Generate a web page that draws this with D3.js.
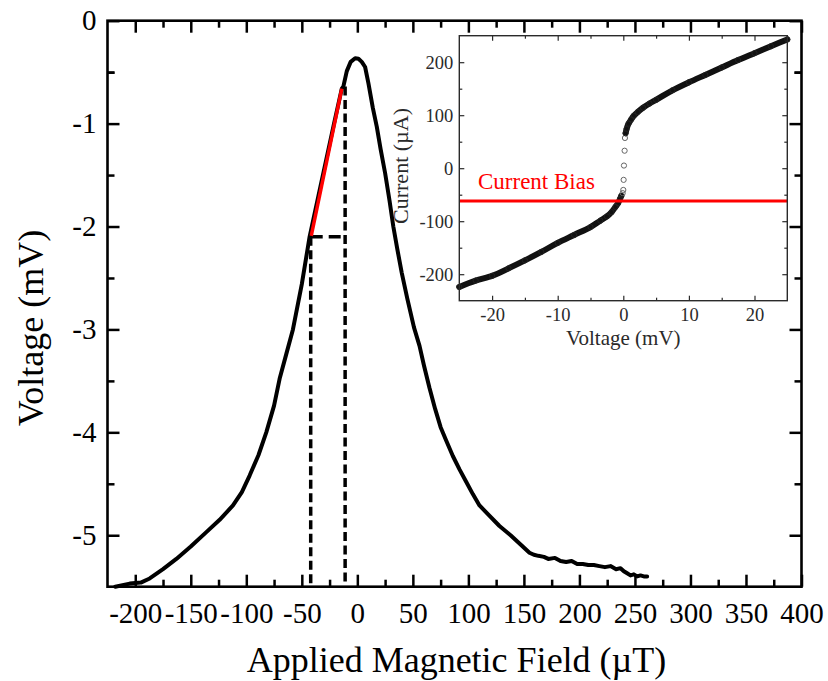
<!DOCTYPE html>
<html>
<head>
<meta charset="utf-8">
<script src="https://cdn.jsdelivr.net/npm/d3@7"></script>
<style>
  html, body { margin: 0; padding: 0; background: #fff; }
  svg { display: block; }
  text { font-family: "Liberation Serif", "Times New Roman", serif; }
</style>
</head>
<body>
<svg id="chart" width="828" height="681"></svg>
<script>
// Voltage response vs. applied magnetic field
const fieldUT = [-218, -205, -195, -187, -175, -163, -150, -136, -124, -112, -104, -97, -89, -82, -75, -70, -64, -58, -50, -43,
  -35, -28, -21, -14, -12.6, -9.5, -6, -2, 1, 4, 7, 10, 14, 17.5, 21, 25, 29, 32.4, 36, 40, 45, 51, 56, 60, 65, 70, 75, 80,
  86, 92, 98, 104, 110, 118, 128, 138, 147, 155, 159, 163, 168, 172, 178, 183, 188, 193, 198, 203, 208, 213, 218, 223, 228,
  233, 237, 240, 243, 246, 249, 252, 255, 258, 261];
const voltageMV = [-5.5, -5.47, -5.46, -5.42, -5.33, -5.23, -5.11, -4.97, -4.85, -4.71, -4.58, -4.42, -4.22, -4.0, -3.74, -3.48, -3.24, -3.0, -2.56, -2.1,
  -1.7, -1.35, -1.0, -0.66, -0.64, -0.49, -0.4, -0.365, -0.37, -0.4, -0.45, -0.61, -0.85, -1.03, -1.25, -1.48, -1.75, -2.0, -2.22, -2.45, -2.7, -2.98, -3.16, -3.35, -3.57, -3.77, -3.95, -4.08,
  -4.23, -4.36, -4.48, -4.6, -4.71, -4.8, -4.91, -5.0, -5.09, -5.17, -5.19, -5.2, -5.21, -5.23, -5.22, -5.25, -5.26, -5.25, -5.28, -5.28, -5.29, -5.29, -5.3, -5.31, -5.3,
  -5.33, -5.32, -5.35, -5.37, -5.39, -5.38, -5.4, -5.39, -5.4, -5.4];

// linear segment used as the working slope
const slopeField = [-41.5, -14];
const slopeVoltage = [-2.09, -0.66];

// dashed guides marking the operating window
const guideField = [-42, -11];
const guideVoltage = [-2.1, -0.64];

const fieldTicks = [-200, -150, -100, -50, 0, 50, 100, 150, 200, 250, 300, 350, 400];
const voltageTicks = [0, -1, -2, -3, -4, -5];

// I-V characteristic of the device (inset)
const ivVoltage = [-25, -22.5, -20, -17.5, -15, -12.5, -10, -7.5, -5, -3.5, -2.5, -1.8, -1.2, -0.8, -0.5, -0.3,
  -0.1, 0, 0.05, 0.1, 0.2, 0.25,
  0.35, 0.5, 0.8, 1.2, 1.6, 2.2, 3, 4, 5, 7.5, 10, 12.5, 15, 17.5, 20, 22.5, 25];
const ivCurrent = [-224, -212, -203, -189, -174, -158, -141, -126, -111, -99, -91, -83, -73, -66, -58, -52,
  -47, -41, -22, 5, 33, 57,
  66, 74, 84, 92, 99, 106, 114, 122, 129, 147, 162, 176, 190, 204, 217, 230, 243];
const biasCurrent = -62;

const ivVoltageTicks = [-20, -10, 0, 10, 20];
const ivCurrentTicks = [-200, -100, 0, 100, 200];

const svg = d3.select("#chart");

// ---------- main panel ----------
const M = { left: 107.5, right: 801.5, top: 20.7, bottom: 586.7 };
const x = d3.scaleLinear().domain([-225, 400]).range([M.left, M.right]);
const y = d3.scaleLinear().domain([-5.5, 0]).range([M.bottom, M.top]);

function drawAxes(g, xs, ys, o) {
  const [x0, x1] = xs.range(), [y0, y1] = ys.range();
  const fmt = d => String(d);
  const minor = (ticks, step) => ticks.map(t => t + step).filter(t => !ticks.includes(t));
  const xMinor = minor(o.xTicks, o.xStep / 2).concat([o.xTicks[0] - o.xStep / 2]).filter(t => t > xs.domain()[0] && t < xs.domain()[1]);
  const yMinor = minor(o.yTicks, o.yStep / 2).concat([o.yTicks[0] - o.yStep / 2]).filter(t => t > ys.domain()[0] && t < ys.domain()[1]);

  const clean = sel => { sel.select(".domain").remove(); sel.selectAll("line").attr("stroke", o.color).attr("stroke-width", o.tickWidth); };
  const label = sel => sel.selectAll("text").attr("fill", o.color).style("font-size", o.tickFont + "px").attr("font-family", "Liberation Serif");

  // bottom
  g.append("g").attr("transform", `translate(0,${y0})`)
    .call(d3.axisBottom(xs).tickValues(o.xTicks).tickSize(-o.major).tickPadding(o.xPad).tickFormat(fmt))
    .call(clean).call(label);
  g.append("g").attr("transform", `translate(0,${y0})`)
    .call(d3.axisBottom(xs).tickValues(xMinor).tickSize(-o.minorLen).tickFormat(""))
    .call(clean);
  // top
  g.append("g").attr("transform", `translate(0,${y1})`)
    .call(d3.axisTop(xs).tickValues(o.xTicks).tickSize(-o.major).tickFormat(""))
    .call(clean);
  g.append("g").attr("transform", `translate(0,${y1})`)
    .call(d3.axisTop(xs).tickValues(xMinor).tickSize(-o.minorLen).tickFormat(""))
    .call(clean);
  // left
  g.append("g").attr("transform", `translate(${x0},0)`)
    .call(d3.axisLeft(ys).tickValues(o.yTicks).tickSize(-o.major).tickPadding(o.yPad).tickFormat(fmt))
    .call(clean).call(label);
  g.append("g").attr("transform", `translate(${x0},0)`)
    .call(d3.axisLeft(ys).tickValues(yMinor).tickSize(-o.minorLen).tickFormat(""))
    .call(clean);
  // right
  g.append("g").attr("transform", `translate(${x1},0)`)
    .call(d3.axisRight(ys).tickValues(o.yTicks).tickSize(-o.major).tickFormat(""))
    .call(clean);
  g.append("g").attr("transform", `translate(${x1},0)`)
    .call(d3.axisRight(ys).tickValues(yMinor).tickSize(-o.minorLen).tickFormat(""))
    .call(clean);

  g.append("rect")
    .attr("x", x0).attr("y", y1).attr("width", x1 - x0).attr("height", y0 - y1)
    .attr("fill", "none").attr("stroke", o.color).attr("stroke-width", o.frameWidth);
}

const main = svg.append("g");

// dashed guides
const dash = main.append("g").attr("stroke", "#000").attr("stroke-width", 3.5)
  .attr("stroke-dasharray", "9,4.5").attr("fill", "none");
guideField.forEach((f, i) => {
  dash.append("line")
    .attr("x1", x(f)).attr("x2", x(f))
    .attr("y1", y(guideVoltage[i])).attr("y2", y(-5.5));
});
dash.append("line")
  .attr("x1", x(guideField[0])).attr("x2", x(guideField[1]))
  .attr("y1", y(guideVoltage[0])).attr("y2", y(guideVoltage[0]))
  .attr("stroke-dasharray", "12,6");

// measured curve
main.append("path")
  .datum(fieldUT.map((f, i) => [f, voltageMV[i]]))
  .attr("fill", "none").attr("stroke", "#000").attr("stroke-width", 4)
  .attr("stroke-linejoin", "round").attr("stroke-linecap", "round")
  .attr("d", d3.line().x(d => x(d[0])).y(d => y(d[1])));

// slope segment
main.append("line")
  .attr("x1", x(slopeField[0])).attr("y1", y(slopeVoltage[0]))
  .attr("x2", x(slopeField[1])).attr("y2", y(slopeVoltage[1]))
  .attr("stroke", "#ff0000").attr("stroke-width", 3.5);

drawAxes(main, x, y, {
  xTicks: fieldTicks, yTicks: voltageTicks, xStep: 50, yStep: 1,
  major: 12, minorLen: 7, xPad: 16, yPad: 11, tickFont: 29,
  tickWidth: 2.5, frameWidth: 2.6, color: "#000"
});

main.append("text")
  .attr("x", (M.left + M.right) / 2 + 2).attr("y", 672)
  .attr("text-anchor", "middle").style("font-size", "36px").attr("fill", "#000")
  .text("Applied Magnetic Field (\u00b5T)");
main.append("text")
  .attr("transform", `translate(43,328) rotate(-90)`)
  .attr("text-anchor", "middle").style("font-size", "36px").attr("fill", "#000")
  .text("Voltage (mV)");

// ---------- inset ----------
const I = { left: 459.3, right: 787.3, top: 35.7, bottom: 300.7 };
const xi = d3.scaleLinear().domain([-25, 25]).range([I.left, I.right]);
const yi = d3.scaleLinear().domain([-250, 250]).range([I.bottom, I.top]);

const inset = svg.append("g");
inset.append("rect")
  .attr("x", I.left).attr("y", I.top).attr("width", I.right - I.left).attr("height", I.bottom - I.top)
  .attr("fill", "#fff");

const ivPts = ivVoltage.map((v, i) => [v, ivCurrent[i]]);
const jump = d => d[0] > -0.2 && d[0] < 0.3;

// dense measured branches read as a solid band
[ivPts.filter(d => d[0] <= -0.3), ivPts.filter(d => d[0] >= 0.35)].forEach(branch => {
  inset.append("path").datum(branch)
    .attr("fill", "none").attr("stroke", "#111").attr("stroke-width", 6)
    .attr("stroke-linejoin", "round").attr("stroke-linecap", "round")
    .attr("d", d3.line().curve(d3.curveMonotoneY).x(d => xi(d[0])).y(d => yi(d[1])));
});
inset.append("g").selectAll("circle").data(ivPts).join("circle")
  .attr("cx", d => xi(d[0])).attr("cy", d => yi(d[1])).attr("r", 2.6)
  .attr("fill", "none").attr("stroke", d => jump(d) ? "#666" : "#222").attr("stroke-width", 1);

// bias line
inset.append("line")
  .attr("x1", xi(-25)).attr("x2", xi(25))
  .attr("y1", yi(biasCurrent)).attr("y2", yi(biasCurrent))
  .attr("stroke", "#ff0000").attr("stroke-width", 3);
inset.append("text")
  .attr("x", 478).attr("y", 189)
  .style("font-size", "23px").attr("fill", "#ff0000")
  .text("Current Bias");

drawAxes(inset, xi, yi, {
  xTicks: ivVoltageTicks, yTicks: ivCurrentTicks, xStep: 10, yStep: 100,
  major: 5, minorLen: 3, xPad: 7, yPad: 6, tickFont: 18.5,
  tickWidth: 1.2, frameWidth: 1.4, color: "#2a2a2a"
});

inset.append("text")
  .attr("x", (I.left + I.right) / 2).attr("y", 345)
  .attr("text-anchor", "middle").style("font-size", "21px").attr("fill", "#2a2a2a")
  .text("Voltage (mV)");
inset.append("text")
  .attr("transform", `translate(408,166) rotate(-90)`)
  .attr("text-anchor", "middle").style("font-size", "22px").attr("fill", "#2a2a2a")
  .text("Current (\u00b5A)");
</script>
</body>
</html>
